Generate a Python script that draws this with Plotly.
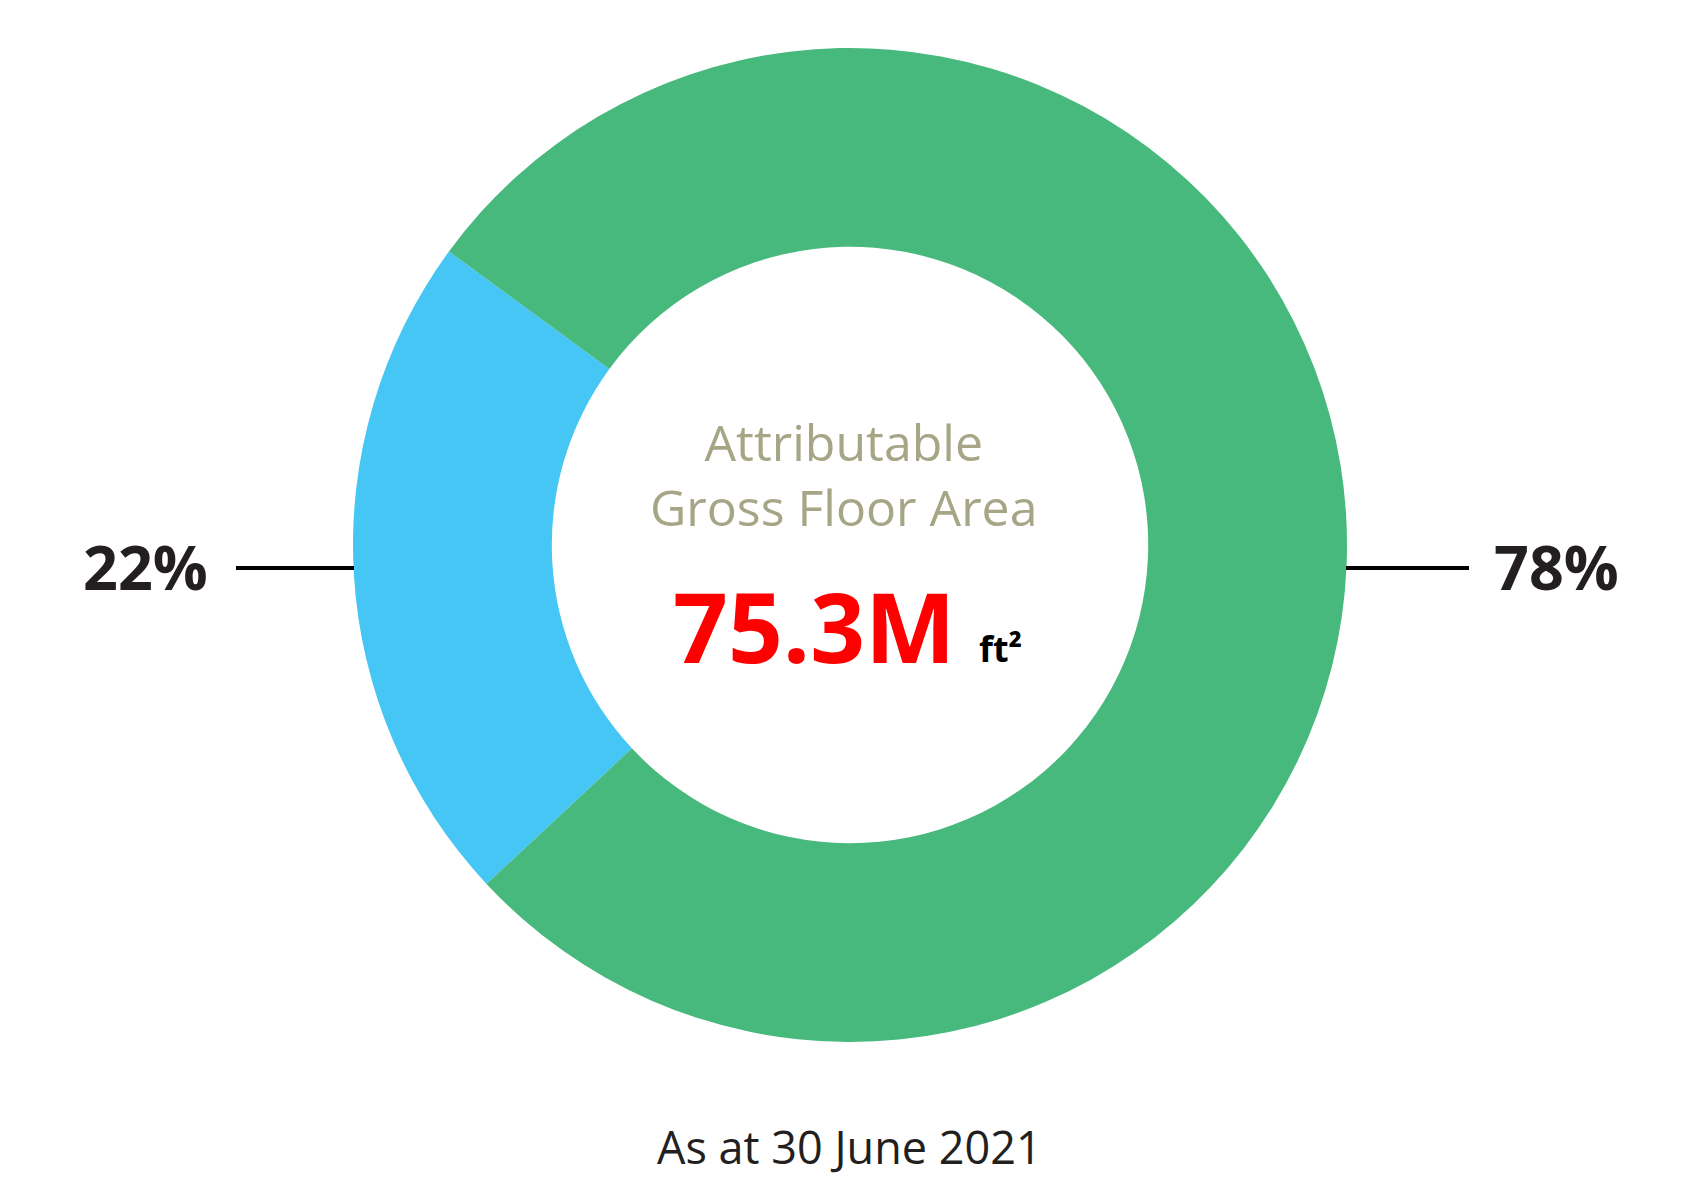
import plotly.graph_objects as go

categories = ["Segment A", "Segment B"]
shares = [22, 78]
share_labels = ["22%", "78%"]
center_title = ["Attributable", "Gross Floor Area"]
center_value = "75.3M"
center_unit = "ft²"
footnote = "As at 30 June 2021"

W, H = 1700, 1200
colors = ["#45C6F4", "#47B97C"]
FONT = "Open Sans"


def px(x, y):
    return x / W, 1 - y / H


cx, cy, R = 850, 545, 497
fig = go.Figure(go.Pie(
    labels=categories, values=shares, sort=False,
    direction="clockwise", rotation=-133,
    hole=0.60, textinfo="none",
    marker=dict(colors=colors, line=dict(width=0)),
    domain=dict(x=[(cx - R) / W, (cx + R) / W], y=[1 - (cy + R) / H, 1 - (cy - R) / H]),
    showlegend=False,
))

ann = []
x, y = px(843, 474)
ann.append(dict(x=x, y=y, text="<br>".join(center_title), font=dict(family=FONT, size=50, color="#A6A586")))
x, y = px(814, 625)
ann.append(dict(x=x, y=y, text=f"<b>{center_value}</b>", font=dict(family=FONT, size=96, color="#FF0000")))
x, y = px(1000, 648)
ann.append(dict(x=x, y=y, text=f"<b>{center_unit}</b>", font=dict(family=FONT, size=36, color="#000000")))
x, y = px(145, 566)
ann.append(dict(x=x, y=y, text=f"<b>{share_labels[0]}</b>", font=dict(family=FONT, size=61, color="#231F20")))
x, y = px(1556, 566)
ann.append(dict(x=x, y=y, text=f"<b>{share_labels[1]}</b>", font=dict(family=FONT, size=61, color="#231F20")))
x, y = px(849, 1146)
ann.append(dict(x=x, y=y, text=footnote, font=dict(family=FONT, size=45, color="#231F20")))
for a in ann:
    a.update(xref="paper", yref="paper", showarrow=False, xanchor="center", yanchor="middle")

shapes = []
for x0, x1 in [(236, 354), (1346, 1469)]:
    a0, b0 = px(x0, 568)
    a1, b1 = px(x1, 568)
    shapes.append(dict(type="line", xref="paper", yref="paper", x0=a0, x1=a1, y0=b0, y1=b1,
                       line=dict(color="#000000", width=4)))

fig.update_layout(width=W, height=H, margin=dict(l=0, r=0, t=0, b=0),
                  paper_bgcolor="white", plot_bgcolor="white",
                  annotations=ann, shapes=shapes)
fig.write_html("out.html", config={"displayModeBar": False},
               post_script="document.body.style.margin='0px';")
